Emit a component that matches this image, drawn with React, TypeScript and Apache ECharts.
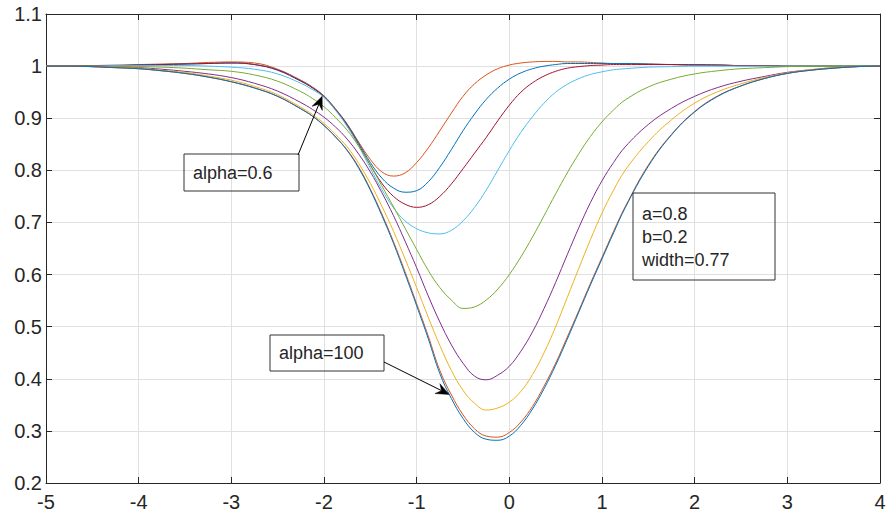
import React, { useEffect, useRef } from "react";
import * as echarts from "echarts";

// Sample positions along the horizontal axis: 0.25 steps on the flanks, 0.125 through the dip
const xs = [
  -5, -4.75, -4.5, -4.25, -4, -3.75, -3.5, -3.25, -3, -2.75, -2.5,
  -2.25, -2.125, -2, -1.875, -1.75, -1.625, -1.5, -1.375, -1.25, -1.125, -1, -0.875, -0.75, -0.625, -0.5, -0.375, -0.25, -0.125,
  0, 0.125, 0.25, 0.375, 0.5, 0.625, 0.75, 0.875, 1, 1.125, 1.25,
  1.5, 1.75, 2, 2.25, 2.5, 2.75, 3, 3.25, 3.5, 3.75, 4,
];

// Response curves, deepest dip first
const curve1 = [
  1.0, 1.0, 0.999, 0.997, 0.995, 0.991, 0.986, 0.979, 0.970, 0.958, 0.942,
  0.918, 0.904, 0.886, 0.864, 0.838, 0.804, 0.762, 0.713, 0.660, 0.601, 0.540, 0.477, 0.410, 0.362, 0.324, 0.297, 0.284, 0.282,
  0.290, 0.311, 0.342, 0.381, 0.426, 0.476, 0.528, 0.580, 0.630, 0.680, 0.728,
  0.808, 0.868, 0.912, 0.942, 0.962, 0.976, 0.986, 0.992, 0.996, 0.999, 1.0,
];
const curve2 = [
  1.0, 1.0, 0.999, 0.997, 0.995, 0.991, 0.986, 0.979, 0.970, 0.958, 0.942,
  0.918, 0.904, 0.886, 0.864, 0.839, 0.806, 0.764, 0.716, 0.663, 0.605, 0.544, 0.482, 0.416, 0.369, 0.331, 0.304, 0.290, 0.288,
  0.297, 0.317, 0.347, 0.386, 0.430, 0.480, 0.531, 0.583, 0.633, 0.683, 0.730,
  0.810, 0.869, 0.913, 0.943, 0.962, 0.976, 0.986, 0.992, 0.996, 0.999, 1.0,
];
const curve3 = [
  1.0, 1.0, 0.999, 0.998, 0.996, 0.992, 0.988, 0.981, 0.973, 0.961, 0.945,
  0.921, 0.907, 0.890, 0.869, 0.845, 0.813, 0.775, 0.731, 0.683, 0.630, 0.575, 0.518, 0.464, 0.416, 0.378, 0.353, 0.340, 0.344,
  0.355, 0.376, 0.408, 0.450, 0.500, 0.556, 0.612, 0.667, 0.718, 0.762, 0.800,
  0.855, 0.897, 0.929, 0.951, 0.966, 0.978, 0.987, 0.993, 0.997, 0.999, 1.0,
];
const curve4 = [
  1.0, 1.0, 0.999, 0.998, 0.997, 0.994, 0.990, 0.985, 0.978, 0.967, 0.952,
  0.930, 0.917, 0.902, 0.883, 0.860, 0.831, 0.797, 0.757, 0.713, 0.664, 0.613, 0.559, 0.509, 0.465, 0.430, 0.405, 0.398, 0.407,
  0.424, 0.453, 0.490, 0.535, 0.585, 0.638, 0.690, 0.738, 0.780, 0.815, 0.845,
  0.888, 0.919, 0.942, 0.959, 0.971, 0.980, 0.988, 0.993, 0.997, 0.999, 1.0,
];
const curve5 = [
  1.0, 1.0, 1.0, 0.999, 0.999, 0.998, 0.996, 0.993, 0.990, 0.983, 0.971,
  0.951, 0.938, 0.922, 0.901, 0.877, 0.846, 0.810, 0.770, 0.730, 0.689, 0.648, 0.608, 0.575, 0.551, 0.535, 0.538, 0.551, 0.572,
  0.600, 0.634, 0.672, 0.713, 0.755, 0.795, 0.832, 0.865, 0.893, 0.916, 0.935,
  0.960, 0.975, 0.985, 0.991, 0.995, 0.997, 0.999, 1.0, 1.0, 1.0, 1.0,
];
const curve6 = [
  1.0, 1.0, 1.0, 1.001, 1.001, 1.001, 1.001, 1.0, 0.998, 0.994, 0.985,
  0.967, 0.955, 0.940, 0.915, 0.884, 0.846, 0.804, 0.763, 0.728, 0.703, 0.688, 0.680, 0.678, 0.685, 0.703, 0.729, 0.762, 0.800,
  0.838, 0.873, 0.903, 0.929, 0.950, 0.965, 0.976, 0.984, 0.989, 0.993, 0.995,
  0.998, 0.999, 1.0, 1.0, 1.0, 1.0, 1.0, 1.0, 1.0, 1.0, 1.0,
];
const curve7 = [
  1.0, 1.0, 1.001, 1.001, 1.002, 1.003, 1.004, 1.005, 1.006, 1.003, 0.992,
  0.971, 0.958, 0.941, 0.916, 0.886, 0.849, 0.810, 0.775, 0.750, 0.735, 0.729, 0.734, 0.750, 0.774, 0.803, 0.833, 0.863, 0.895,
  0.925, 0.950, 0.968, 0.981, 0.990, 0.996, 0.999, 1.001, 1.002, 1.003, 1.003,
  1.003, 1.003, 1.002, 1.002, 1.001, 1.001, 1.0, 1.0, 1.0, 1.0, 1.0,
];
const curve8 = [
  1.0, 1.0, 1.001, 1.001, 1.002, 1.003, 1.004, 1.005, 1.006, 1.003, 0.993,
  0.972, 0.959, 0.942, 0.917, 0.888, 0.852, 0.815, 0.785, 0.766, 0.758, 0.761, 0.778, 0.806, 0.840, 0.876, 0.908, 0.936, 0.958,
  0.975, 0.987, 0.995, 1.000, 1.003, 1.005, 1.005, 1.005, 1.005, 1.005, 1.005,
  1.004, 1.003, 1.003, 1.002, 1.001, 1.001, 1.0, 1.0, 1.0, 1.0, 1.0,
];
const curve9 = [
  1.0, 1.0, 1.001, 1.002, 1.003, 1.004, 1.005, 1.007, 1.008, 1.006, 0.994,
  0.973, 0.960, 0.943, 0.918, 0.889, 0.854, 0.821, 0.797, 0.789, 0.795, 0.815, 0.843, 0.876, 0.910, 0.942, 0.966, 0.983, 0.995,
  1.002, 1.006, 1.008, 1.009, 1.009, 1.008, 1.008, 1.007, 1.006, 1.005, 1.005,
  1.004, 1.003, 1.002, 1.002, 1.001, 1.001, 1.0, 1.0, 1.0, 1.0, 1.0,
];

const curves = [curve1, curve2, curve3, curve4, curve5, curve6, curve7, curve8, curve9];
const lineColors = ["#0072BD", "#D95319", "#EDB120", "#7E2F8E", "#77AC30", "#4DBEEE", "#A2142F", "#0072BD", "#D95319"];

// Axis ranges and tick steps
const xRange = [-5, 4];
const yRange = [0.2, 1.1];
const xStep = 1;
const yStep = 0.1;

// Annotation texts and the data points their arrows point at
const noteLow = "alpha=0.6";
const noteLowTarget = [-2.02, 0.942];
const noteHigh = "alpha=100";
const noteHighTarget = [-0.65, 0.37];
const paramLines = ["a=0.8", "b=0.2", "width=0.77"];

const FONT = "'Liberation Sans', Arial, Helvetica, sans-serif";
const INK = "#262626";

function arrowGraphics(from: number[], to: number[]) {
  const dx = to[0] - from[0];
  const dy = to[1] - from[1];
  const L = Math.hypot(dx, dy) || 1;
  const ux = dx / L;
  const uy = dy / L;
  const nx = -uy;
  const ny = ux;
  const len = 13;
  const half = 5.5;
  const bx = to[0] - ux * len;
  const by = to[1] - uy * len;
  const mx = to[0] - ux * len * 0.65;
  const my = to[1] - uy * len * 0.65;
  return [
    {
      type: "line",
      shape: { x1: from[0], y1: from[1], x2: mx, y2: my },
      style: { stroke: "#000", lineWidth: 1 },
      z: 100,
    },
    {
      type: "polygon",
      shape: {
        points: [
          [to[0], to[1]],
          [bx + nx * half, by + ny * half],
          [mx, my],
          [bx - nx * half, by - ny * half],
        ],
      },
      style: { fill: "#000", stroke: "#000", lineWidth: 0.5 },
      z: 101,
    },
  ];
}

function textBox(x: number, y: number, w: number, h: number, lines: string[], lineGap: number) {
  const items: any[] = [
    {
      type: "rect",
      shape: { x, y, width: w, height: h },
      style: { fill: "transparent", stroke: "#333", lineWidth: 1 },
      z: 100,
    },
  ];
  const totalH = lineGap * (lines.length - 1);
  lines.forEach((t, i) => {
    items.push({
      type: "text",
      x: x + 9,
      y: y + h / 2 - totalH / 2 + i * lineGap,
      style: {
        text: t,
        fill: INK,
        font: `18px ${FONT}`,
        verticalAlign: "middle",
        textAlign: "left",
      },
      z: 101,
    });
  });
  return items;
}

export default function App() {
  const ref = useRef<HTMLDivElement>(null);

  useEffect(() => {
    if (!ref.current) return;
    const chart = echarts.init(ref.current, null, { renderer: "svg" });

    const labelFmt = (v: number) => String(Math.round(v * 10) / 10);

    const axisCommon = {
      type: "value",
      axisLine: { show: true, onZero: false, lineStyle: { color: INK, width: 1 } },
      axisTick: { show: true, inside: true, length: 6, lineStyle: { color: INK, width: 1 } },
    };

    chart.setOption({
      animation: false,
      backgroundColor: "#ffffff",
      grid: { left: 46, right: 11, top: 14, bottom: 35, containLabel: false },
      xAxis: [
        {
          ...axisCommon,
          position: "bottom",
          min: xRange[0],
          max: xRange[1],
          interval: xStep,
          axisLabel: { color: INK, fontSize: 20, fontFamily: FONT, margin: 9, formatter: labelFmt },
          splitLine: { show: true, lineStyle: { color: "#e0e0e0", width: 1 } },
        },
        {
          ...axisCommon,
          position: "top",
          min: xRange[0],
          max: xRange[1],
          interval: xStep,
          axisLabel: { show: false },
          splitLine: { show: false },
        },
      ],
      yAxis: [
        {
          ...axisCommon,
          position: "left",
          min: yRange[0],
          max: yRange[1],
          interval: yStep,
          axisLabel: { color: INK, fontSize: 20, fontFamily: FONT, margin: 4, formatter: labelFmt },
          splitLine: { show: true, lineStyle: { color: "#e0e0e0", width: 1 } },
        },
        {
          ...axisCommon,
          position: "right",
          min: yRange[0],
          max: yRange[1],
          interval: yStep,
          axisLabel: { show: false },
          splitLine: { show: false },
        },
      ],
      series: curves.map((c, i) => ({
        type: "line",
        xAxisIndex: 0,
        yAxisIndex: 0,
        data: xs.map((x, j) => [x, c[j]]),
        smooth: 0.4,
        showSymbol: false,
        symbol: "none",
        lineStyle: { color: lineColors[i], width: 1 },
        itemStyle: { color: lineColors[i] },
        z: 2 + (curves.length - i),
      })),
    });

    const tipLow = chart.convertToPixel({ gridIndex: 0 }, noteLowTarget) as number[];
    const tipHigh = chart.convertToPixel({ gridIndex: 0 }, noteHighTarget) as number[];

    const graphics: any[] = [
      ...textBox(184, 154, 115, 37, [noteLow], 0),
      ...arrowGraphics([298, 155], tipLow),
      ...textBox(270, 335, 114, 36, [noteHigh], 0),
      ...arrowGraphics([384, 362], tipHigh),
      ...textBox(633, 193, 142, 87, paramLines, 23),
    ];
    chart.setOption({ graphic: graphics });

    return () => chart.dispose();
  }, []);

  return (
    <div
      ref={ref}
      style={{ position: "fixed", left: 0, top: 0, width: 891, height: 518, background: "#fff" }}
    />
  );
}
